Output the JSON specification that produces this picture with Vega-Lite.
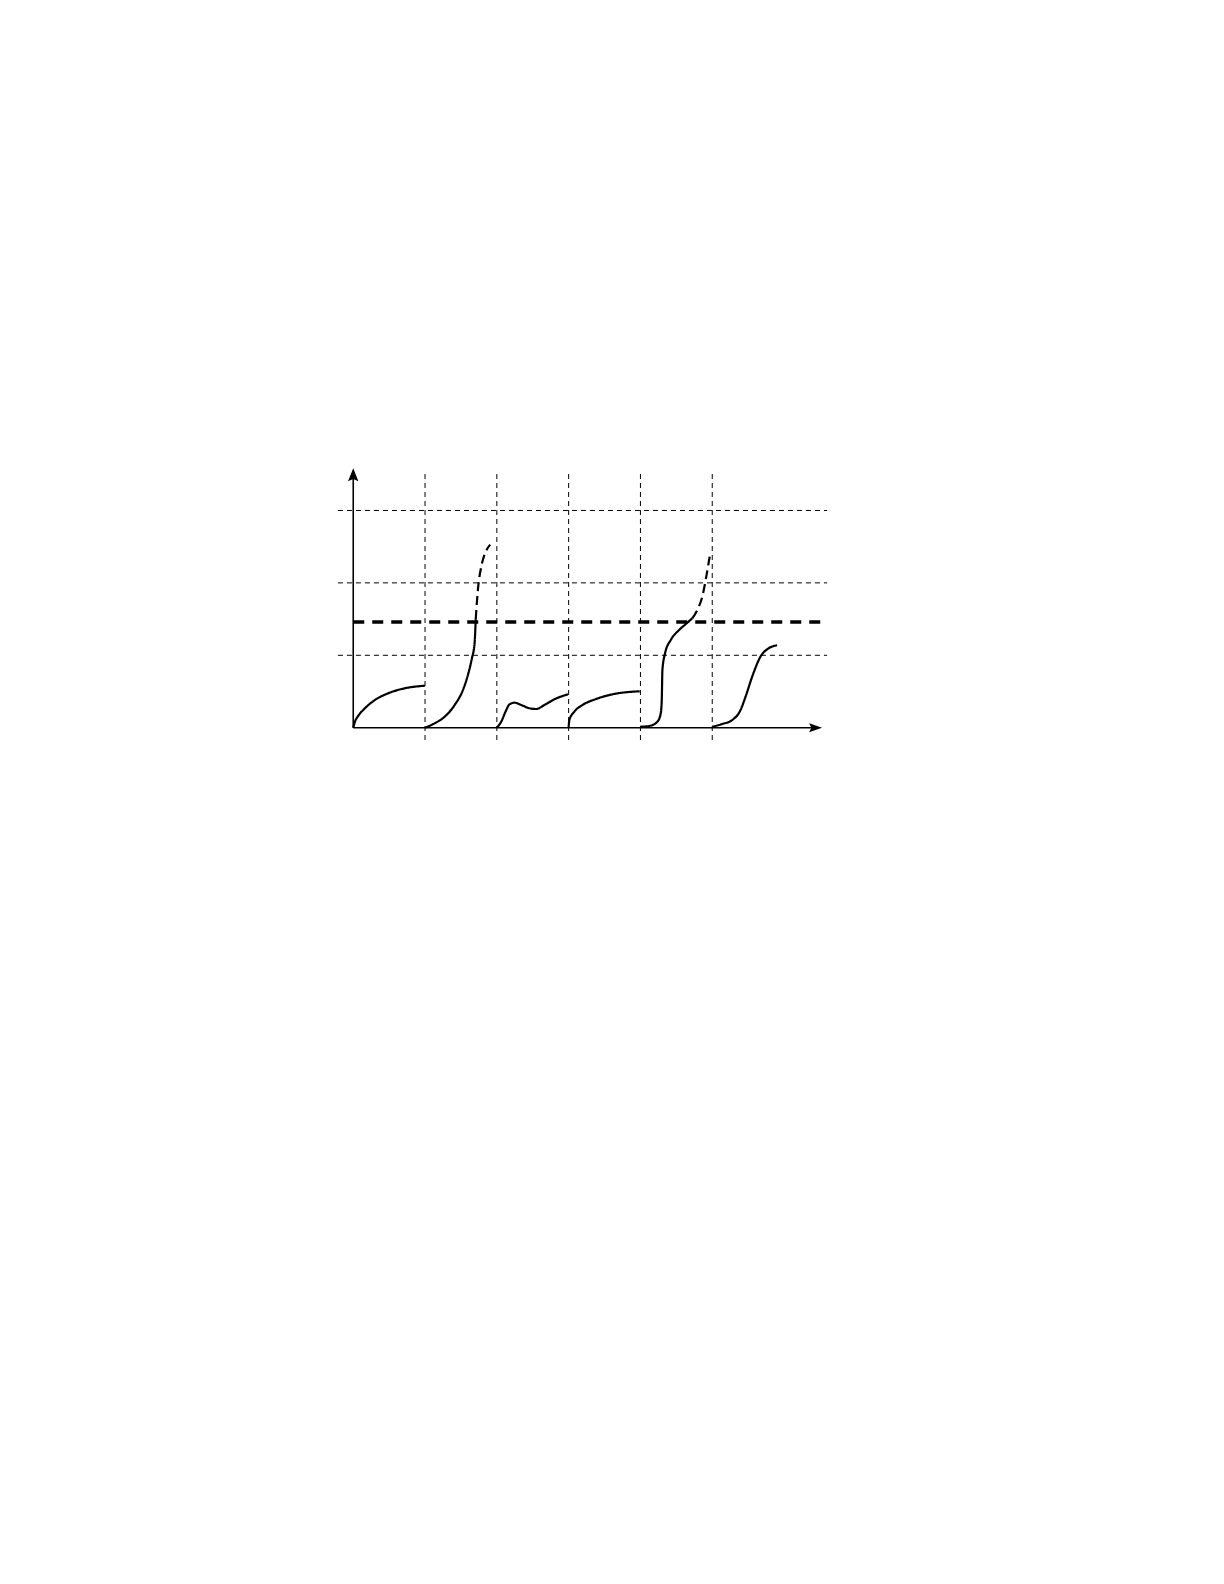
{
  "$schema": "https://vega.github.io/schema/vega-lite/v6.json",
  "width": 502.6,
  "height": 282.4,
  "autosize": "none",
  "padding": {"left": 331.7, "top": 463.4, "right": 0, "bottom": 0},
  "background": "white",
  "config": {"view": {"stroke": null}},
  "datasets": {
    "vgrid": [
      {"x": 1, "y1": -0.17, "y2": 3.52},
      {"x": 2, "y1": -0.17, "y2": 3.52},
      {"x": 3, "y1": -0.17, "y2": 3.52},
      {"x": 4, "y1": -0.17, "y2": 3.52},
      {"x": 5, "y1": -0.17, "y2": 3.52}
    ],
    "hgrid": [
      {"y": 1, "x1": -0.213, "x2": 6.6},
      {"y": 2, "x1": -0.213, "x2": 6.6},
      {"y": 3, "x1": -0.213, "x2": 6.6}
    ],
    "threshold": [
      {"y": 1.46, "x1": 0, "x2": 6.53}
    ],
    "axes": [
      {"x1": 0, "y1": 0, "x2": 0, "y2": 3.45},
      {"x1": 0, "y1": 0, "x2": 6.42, "y2": 0}
    ],
    "arrows": [
      {"x": 0, "y": 3.583, "dir": "up"},
      {"x": 6.53, "y": 0, "dir": "right"}
    ],
    "curves": [
      {"seg": "c1", "style": "solid", "x": 0, "y": 0},
      {"seg": "c1", "style": "solid", "x": 0.024, "y": 0.083},
      {"seg": "c1", "style": "solid", "x": 0.069, "y": 0.162},
      {"seg": "c1", "style": "solid", "x": 0.163, "y": 0.268},
      {"seg": "c1", "style": "solid", "x": 0.301, "y": 0.382},
      {"seg": "c1", "style": "solid", "x": 0.486, "y": 0.475},
      {"seg": "c1", "style": "solid", "x": 0.718, "y": 0.544},
      {"seg": "c1", "style": "solid", "x": 1.0, "y": 0.58},

      {"seg": "c2s", "style": "solid", "x": 1.0, "y": 0},
      {"seg": "c2s", "style": "solid", "x": 1.135, "y": 0.061},
      {"seg": "c2s", "style": "solid", "x": 1.274, "y": 0.152},
      {"seg": "c2s", "style": "solid", "x": 1.413, "y": 0.314},
      {"seg": "c2s", "style": "solid", "x": 1.528, "y": 0.521},
      {"seg": "c2s", "style": "solid", "x": 1.597, "y": 0.728},
      {"seg": "c2s", "style": "solid", "x": 1.653, "y": 0.959},
      {"seg": "c2s", "style": "solid", "x": 1.69, "y": 1.166},
      {"seg": "c2s", "style": "solid", "x": 1.7, "y": 1.35},
      {"seg": "c2s", "style": "solid", "x": 1.706, "y": 1.5},
      {"seg": "c2d", "style": "dashed", "x": 1.706, "y": 1.5},
      {"seg": "c2d", "style": "dashed", "x": 1.716, "y": 1.65},
      {"seg": "c2d", "style": "dashed", "x": 1.736, "y": 1.902},
      {"seg": "c2d", "style": "dashed", "x": 1.783, "y": 2.224},
      {"seg": "c2d", "style": "dashed", "x": 1.829, "y": 2.39},
      {"seg": "c2d", "style": "dashed", "x": 1.908, "y": 2.528},

      {"seg": "c3", "style": "solid", "x": 2.0, "y": 0},
      {"seg": "c3", "style": "solid", "x": 2.061, "y": 0.083},
      {"seg": "c3", "style": "solid", "x": 2.131, "y": 0.244},
      {"seg": "c3", "style": "solid", "x": 2.176, "y": 0.323},
      {"seg": "c3", "style": "solid", "x": 2.246, "y": 0.345},
      {"seg": "c3", "style": "solid", "x": 2.339, "y": 0.314},
      {"seg": "c3", "style": "solid", "x": 2.454, "y": 0.268},
      {"seg": "c3", "style": "solid", "x": 2.547, "y": 0.258},
      {"seg": "c3", "style": "solid", "x": 2.663, "y": 0.314},
      {"seg": "c3", "style": "solid", "x": 2.801, "y": 0.392},
      {"seg": "c3", "style": "solid", "x": 2.99, "y": 0.461},

      {"seg": "c4", "style": "solid", "x": 3.0, "y": 0.006},
      {"seg": "c4", "style": "solid", "x": 3.01, "y": 0.106},
      {"seg": "c4", "style": "solid", "x": 3.079, "y": 0.221},
      {"seg": "c4", "style": "solid", "x": 3.194, "y": 0.314},
      {"seg": "c4", "style": "solid", "x": 3.381, "y": 0.396},
      {"seg": "c4", "style": "solid", "x": 3.611, "y": 0.461},
      {"seg": "c4", "style": "solid", "x": 3.99, "y": 0.503},

      {"seg": "c5s", "style": "solid", "x": 4.0, "y": 0.014},
      {"seg": "c5s", "style": "solid", "x": 4.121, "y": 0.023},
      {"seg": "c5s", "style": "solid", "x": 4.236, "y": 0.083},
      {"seg": "c5s", "style": "solid", "x": 4.283, "y": 0.199},
      {"seg": "c5s", "style": "solid", "x": 4.297, "y": 0.383},
      {"seg": "c5s", "style": "solid", "x": 4.306, "y": 0.797},
      {"seg": "c5s", "style": "solid", "x": 4.343, "y": 1.028},
      {"seg": "c5s", "style": "solid", "x": 4.422, "y": 1.211},
      {"seg": "c5s", "style": "solid", "x": 4.538, "y": 1.349},
      {"seg": "c5s", "style": "solid", "x": 4.63, "y": 1.43},
      {"seg": "c5s", "style": "solid", "x": 4.722, "y": 1.511},
      {"seg": "c5d", "style": "dashed", "x": 4.722, "y": 1.511},
      {"seg": "c5d", "style": "dashed", "x": 4.792, "y": 1.626},
      {"seg": "c5d", "style": "dashed", "x": 4.861, "y": 1.809},
      {"seg": "c5d", "style": "dashed", "x": 4.917, "y": 2.086},
      {"seg": "c5d", "style": "dashed", "x": 4.964, "y": 2.362},

      {"seg": "c6", "style": "solid", "x": 5.0, "y": 0.014},
      {"seg": "c6", "style": "solid", "x": 5.139, "y": 0.051},
      {"seg": "c6", "style": "solid", "x": 5.278, "y": 0.106},
      {"seg": "c6", "style": "solid", "x": 5.394, "y": 0.244},
      {"seg": "c6", "style": "solid", "x": 5.464, "y": 0.428},
      {"seg": "c6", "style": "solid", "x": 5.556, "y": 0.704},
      {"seg": "c6", "style": "solid", "x": 5.672, "y": 0.981},
      {"seg": "c6", "style": "solid", "x": 5.787, "y": 1.097},
      {"seg": "c6", "style": "solid", "x": 5.903, "y": 1.138}
    ]
  },
  "layer": [
    {
      "data": {"name": "vgrid"},
      "mark": {"type": "rule", "color": "black", "strokeWidth": 1, "strokeDash": [5, 4]},
      "encoding": {
        "x": {"field": "x", "type": "quantitative", "scale": {"domain": [-0.3, 6.7], "nice": false, "zero": false}, "axis": null},
        "y": {"field": "y1", "type": "quantitative", "scale": {"domain": [-0.25, 3.65], "nice": false, "zero": false}, "axis": null},
        "y2": {"field": "y2"}
      }
    },
    {
      "data": {"name": "hgrid"},
      "mark": {"type": "rule", "color": "black", "strokeWidth": 1, "strokeDash": [5, 4]},
      "encoding": {
        "y": {"field": "y", "type": "quantitative"},
        "x": {"field": "x1", "type": "quantitative"},
        "x2": {"field": "x2"}
      }
    },
    {
      "data": {"name": "threshold"},
      "mark": {"type": "rule", "color": "black", "strokeWidth": 3.5, "strokeDash": [11, 8]},
      "encoding": {
        "y": {"field": "y", "type": "quantitative"},
        "x": {"field": "x1", "type": "quantitative"},
        "x2": {"field": "x2"}
      }
    },
    {
      "data": {"name": "axes"},
      "mark": {"type": "rule", "color": "black", "strokeWidth": 1.6},
      "encoding": {
        "x": {"field": "x1", "type": "quantitative"},
        "y": {"field": "y1", "type": "quantitative"},
        "x2": {"field": "x2"},
        "y2": {"field": "y2"}
      }
    },
    {
      "data": {"name": "arrows"},
      "transform": [{"filter": "datum.dir === 'up'"}],
      "mark": {"type": "point", "filled": true, "color": "black", "opacity": 1, "size": 676, "shape": "M0,0L-0.4,1L0,0.82L0.4,1Z"},
      "encoding": {
        "x": {"field": "x", "type": "quantitative"},
        "y": {"field": "y", "type": "quantitative"}
      }
    },
    {
      "data": {"name": "arrows"},
      "transform": [{"filter": "datum.dir === 'right'"}],
      "mark": {"type": "point", "filled": true, "color": "black", "opacity": 1, "size": 676, "shape": "M0,0L-1,-0.35L-0.82,0L-1,0.35Z"},
      "encoding": {
        "x": {"field": "x", "type": "quantitative"},
        "y": {"field": "y", "type": "quantitative"}
      }
    },
    {
      "data": {"name": "curves"},
      "mark": {"type": "line", "color": "black", "strokeWidth": 2.2, "interpolate": "monotone"},
      "encoding": {
        "x": {"field": "x", "type": "quantitative"},
        "y": {"field": "y", "type": "quantitative"},
        "detail": {"field": "seg", "type": "nominal"},
        "strokeDash": {
          "field": "style",
          "type": "nominal",
          "scale": {"domain": ["solid", "dashed"], "range": [[1, 0], [9, 5]]},
          "legend": null
        }
      }
    }
  ]
}
